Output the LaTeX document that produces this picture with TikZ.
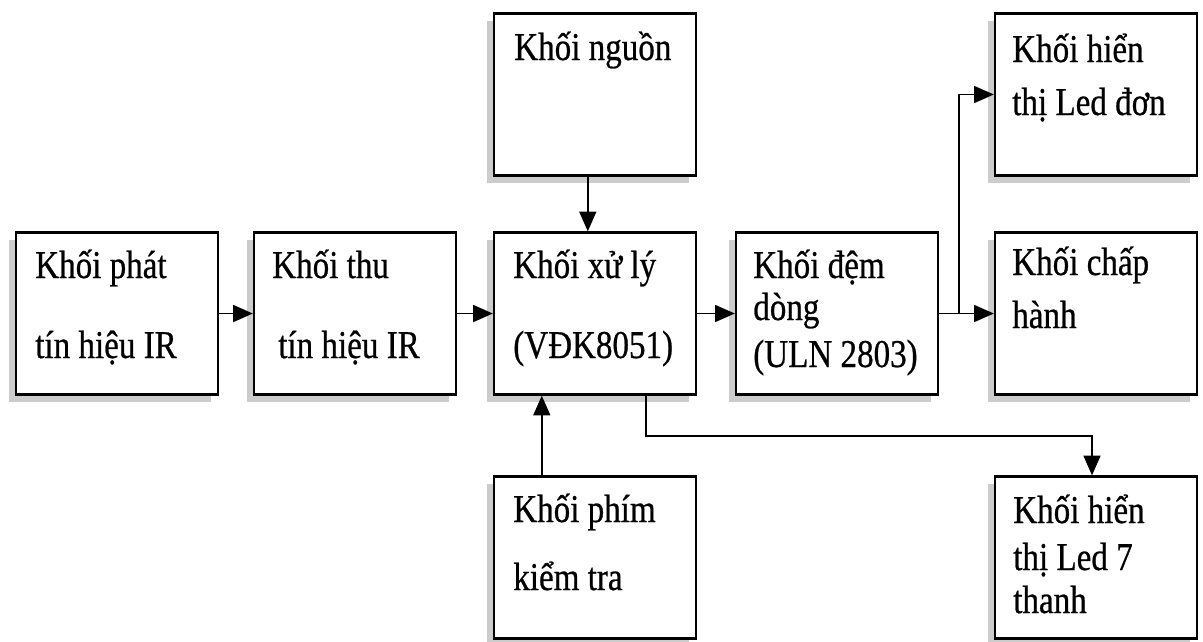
\documentclass[tikz,border=0pt]{standalone}
\usepackage{fontspec}
\setmainfont{Liberation Serif}[FakeStretch=0.84,FakeBold=0.6]
\usetikzlibrary{calc,arrows.meta,shadows}

\begin{document}
\begin{tikzpicture}
      [x=.025cm,y=-.025cm
    % стили блоков, подписей и стрелок
      ,blk/.style={draw=black,fill=white,line width=1.6pt,minimum width=5.05cm,minimum height=4.05cm,
                   drop shadow={shadow xshift=-.18cm,shadow yshift=-.18cm,fill=gray!40,opacity=1}}
      ,txt/.style={anchor=base west,inner sep=0pt,font=\fontsize{28}{30}\selectfont}
      ,arr/.style={-{Triangle[length=14pt,width=12pt]},line width=1.3pt}
      ]
        \useasboundingbox (0,0) rectangle (1203,641);

    % блоки
        \node[blk] (phat)  at (117,313.5) {};
        \node[blk] (thu)   at (355,313.5) {};
        \node[blk] (xuly)  at (595,313.5) {};
        \node[blk] (dem)   at (837,313.5) {};
        \node[blk] (nguon) at (595,94.5) {};
        \node[blk] (ledd)  at (1096,94.5) {};
        \node[blk] (chap)  at (1096,313.5) {};
        \node[blk] (phim)  at (595,557.5) {};
        \node[blk] (led7)  at (1096,557.5) {};

    % подписи
        \node[txt] (phat1) at (35,278) {Khối phát};
        \node[txt] (phat2) at (35,358) {tín hiệu IR};
        \node[txt] (thu1)  at (272,278) {Khối thu};
        \node[txt] (thu2)  at (278,358) {tín hiệu IR};
        \node[txt] (xuly1) at (513,278) {Khối xử lý};
        \node[txt] (xuly2) at (513,358) {(VĐK8051)};
        \node[txt] (dem1)  at (753,278) {Khối đệm};
        \node[txt] (dem2)  at (753,320) {dòng};
        \node[txt] (dem3)  at (753,367) {(ULN 2803)};
        \node[txt] (nguon1) at (514,60) {Khối nguồn};
        \node[txt] (ledd1) at (1012,62) {Khối hiển};
        \node[txt] (ledd2) at (1012,115) {thị Led đơn};
        \node[txt] (chap1) at (1012,275) {Khối chấp};
        \node[txt] (chap2) at (1012,328) {hành};
        \node[txt] (phim1) at (513,522) {Khối phím};
        \node[txt] (phim2) at (513,590) {kiểm tra};
        \node[txt] (led71) at (1013,523) {Khối hiển};
        \node[txt] (led72) at (1013,570) {thị Led 7};
        \node[txt] (led73) at (1013,613) {thanh};

    % связи
        \draw[arr] (phat.east) -- (thu.west);
        \draw[arr] (thu.east) -- (xuly.west);
        \draw[arr] (xuly.east) -- (dem.west);
        \draw[arr] (dem.east) -- (chap.west);
        \coordinate (r) at ($(dem.east)!.37!(chap.west)$);
        \draw[arr] (r) |- (ledd.west);
        \draw[arr] ([xshift=-.18cm]nguon.south) -- ([xshift=-.18cm]xuly.north);
        \draw[arr] ([xshift=-1.33cm]phim.north) -- ([xshift=-1.33cm]xuly.south);
        \draw[arr] ([xshift=1.28cm]xuly.south) -- ++(0,40) -| ([xshift=-.1cm]led7.north);
\end{tikzpicture}
\end{document}
